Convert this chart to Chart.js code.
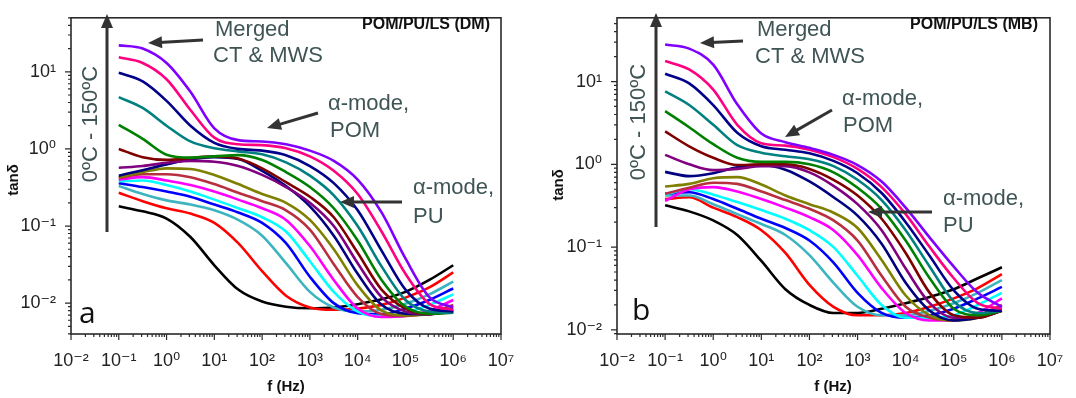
<!DOCTYPE html>
<html>
<head>
<meta charset="utf-8">
<script src="https://cdn.jsdelivr.net/npm/chart.js@4.4.1/dist/chart.umd.min.js"></script>
<style>
  body { margin: 0; background: #fff; width: 1076px; height: 398px; position: relative; overflow: hidden; }
  #wa { position: absolute; left: 0; top: 0; }
  #wb { position: absolute; left: 540px; top: 0; }
</style>
</head>
<body>
<div id="wa"><canvas id="dm" width="540" height="398"></canvas></div>
<div id="wb"><canvas id="mb" width="536" height="398"></canvas></div>
<script>
// frequencies (Hz), half-decade steps from 0.1 Hz to 1 MHz
const freqs = [0.1, 0.3162, 1, 3.162, 10, 31.62, 100, 316.2, 1000, 3162, 1e4, 3.162e4, 1e5, 3.162e5, 1e6];

// one colour per temperature, 0 °C (black) up to 150 °C (violet)
const tempColors = ['#000000', '#ff0000', '#3db5c0', '#0000ff', '#00ffff', '#ff00ff', '#b83040', '#808000',
                    '#000080', '#800080', '#800000', '#008000', '#008080', '#00008b', '#ff0080', '#8000ff'];

const xTicks = [0.01, 0.1, 1, 10, 100, 1e3, 1e4, 1e5, 1e6, 1e7];
const xTickLabels = ['10⁻²', '10⁻¹', '10⁰', '10¹', '10²', '10³', '10⁴', '10⁵', '10⁶', '10⁷'];
const yTicks = [0.01, 0.1, 1, 10];
const yTickLabels = ['10⁻²', '10⁻¹', '10⁰', '10¹'];

// panel a : POM/PU/LS (DM), tan delta
const dm01 = [0.18, 0.155, 0.125, 0.072, 0.031, 0.015, 0.0105, 0.009, 0.0086, 0.0088, 0.0097, 0.0112, 0.014, 0.02, 0.031];
const dm02 = [0.27, 0.21, 0.17, 0.145, 0.11, 0.06, 0.026, 0.0125, 0.0088, 0.0082, 0.0085, 0.0095, 0.0118, 0.016, 0.025];
const dm03 = [0.33, 0.26, 0.215, 0.19, 0.16, 0.12, 0.075, 0.033, 0.014, 0.0088, 0.0078, 0.0082, 0.0098, 0.013, 0.019];
const dm04 = [0.36, 0.32, 0.28, 0.24, 0.19, 0.15, 0.11, 0.06, 0.022, 0.01, 0.0074, 0.0072, 0.0085, 0.011, 0.0155];
const dm05 = [0.38, 0.39, 0.34, 0.28, 0.22, 0.17, 0.13, 0.085, 0.035, 0.014, 0.0078, 0.0068, 0.0075, 0.0095, 0.013];
const dm06 = [0.40, 0.43, 0.39, 0.34, 0.28, 0.22, 0.17, 0.12, 0.055, 0.02, 0.0085, 0.0066, 0.0068, 0.008, 0.011];
const dm07 = [0.42, 0.47, 0.47, 0.43, 0.35, 0.27, 0.21, 0.16, 0.09, 0.032, 0.012, 0.0072, 0.0068, 0.0075, 0.0095];
const dm08 = [0.43, 0.5, 0.56, 0.55, 0.46, 0.35, 0.26, 0.2, 0.12, 0.05, 0.017, 0.008, 0.007, 0.0072, 0.0088];
const dm09 = [0.45, 0.53, 0.63, 0.73, 0.78, 0.74, 0.52, 0.33, 0.18, 0.075, 0.024, 0.0095, 0.0073, 0.0072, 0.0082];
const dm10 = [0.57, 0.6, 0.66, 0.7, 0.68, 0.6, 0.46, 0.32, 0.2, 0.1, 0.033, 0.012, 0.0078, 0.0072, 0.008];
const dm11 = [1.0, 0.78, 0.72, 0.76, 0.8, 0.75, 0.56, 0.37, 0.24, 0.13, 0.045, 0.015, 0.0085, 0.0072, 0.0077];
const dm12 = [2.05, 1.35, 0.84, 0.77, 0.8, 0.83, 0.72, 0.5, 0.32, 0.17, 0.065, 0.02, 0.009, 0.0073, 0.0075];
const dm13 = [4.7, 3.4, 2.0, 1.25, 1.02, 0.93, 0.85, 0.67, 0.45, 0.25, 0.1, 0.03, 0.011, 0.0078, 0.0075];
const dm14 = [9.7, 7.5, 4.2, 2.0, 1.2, 1.0, 0.95, 0.83, 0.6, 0.36, 0.16, 0.048, 0.015, 0.0085, 0.0078];
const dm15 = [15.4, 13, 8, 3.2, 1.4, 1.15, 1.12, 1.02, 0.8, 0.52, 0.26, 0.085, 0.024, 0.0098, 0.0082];
const dm16 = [22, 20, 13, 5.5, 1.85, 1.3, 1.25, 1.15, 0.95, 0.7, 0.4, 0.15, 0.038, 0.012, 0.0088];

// panel b : POM/PU/LS (MB), tan delta
const mb01 = [0.32, 0.27, 0.21, 0.14, 0.068, 0.031, 0.02, 0.016, 0.016, 0.018, 0.021, 0.025, 0.031, 0.042, 0.057];
const mb02 = [0.38, 0.4, 0.3, 0.23, 0.16, 0.085, 0.035, 0.019, 0.015, 0.015, 0.016, 0.019, 0.024, 0.032, 0.047];
const mb03 = [0.42, 0.42, 0.33, 0.25, 0.19, 0.14, 0.08, 0.037, 0.019, 0.015, 0.015, 0.017, 0.021, 0.028, 0.04];
const mb04 = [0.44, 0.46, 0.38, 0.29, 0.22, 0.17, 0.12, 0.065, 0.028, 0.016, 0.014, 0.015, 0.018, 0.024, 0.033];
const mb05 = [0.43, 0.5, 0.43, 0.35, 0.28, 0.22, 0.16, 0.1, 0.045, 0.02, 0.014, 0.014, 0.015, 0.02, 0.028];
const mb06 = [0.36, 0.5, 0.53, 0.47, 0.38, 0.3, 0.23, 0.16, 0.08, 0.032, 0.016, 0.013, 0.013, 0.016, 0.024];
const mb07 = [0.44, 0.52, 0.6, 0.58, 0.47, 0.37, 0.29, 0.21, 0.12, 0.045, 0.019, 0.014, 0.013, 0.015, 0.02];
const mb08 = [0.54, 0.58, 0.68, 0.7, 0.57, 0.42, 0.33, 0.26, 0.17, 0.07, 0.026, 0.015, 0.013, 0.014, 0.018];
const mb09 = [0.81, 0.72, 0.78, 0.92, 0.98, 0.86, 0.62, 0.4, 0.24, 0.11, 0.037, 0.017, 0.013, 0.014, 0.017];
const mb10 = [1.3, 1.0, 0.85, 0.88, 0.95, 0.95, 0.8, 0.55, 0.33, 0.16, 0.055, 0.021, 0.014, 0.014, 0.017];
const mb11 = [2.5, 1.65, 1.2, 0.98, 1.0, 1.0, 0.88, 0.65, 0.42, 0.22, 0.085, 0.028, 0.015, 0.014, 0.017];
const mb12 = [4.4, 2.8, 1.75, 1.2, 1.07, 1.07, 1.0, 0.8, 0.52, 0.29, 0.12, 0.042, 0.018, 0.015, 0.017];
const mb13 = [7.6, 5.2, 3.0, 1.7, 1.38, 1.25, 1.15, 0.95, 0.65, 0.37, 0.16, 0.058, 0.022, 0.016, 0.017];
const mb14 = [12.4, 9.5, 5.2, 2.4, 1.65, 1.5, 1.36, 1.1, 0.78, 0.45, 0.2, 0.078, 0.03, 0.018, 0.017];
const mb15 = [17.7, 14, 8, 3.0, 1.8, 1.68, 1.5, 1.22, 0.88, 0.53, 0.25, 0.1, 0.042, 0.021, 0.018];
const mb16 = [28, 25, 16, 5.3, 2.35, 1.85, 1.58, 1.3, 0.98, 0.62, 0.3, 0.13, 0.058, 0.028, 0.019];

const FONT = '"Liberation Sans", Arial, "DejaVu Sans", sans-serif';
const NOTE = '#3f5454';

function arrow(ctx, x1, y1, x2, y2) {
  const ang = Math.atan2(y2 - y1, x2 - x1);
  const hl = 14, hw = 6;
  ctx.strokeStyle = '#333'; ctx.fillStyle = '#333'; ctx.lineWidth = 3;
  ctx.beginPath();
  ctx.moveTo(x1, y1);
  ctx.lineTo(x2 - Math.cos(ang) * hl * 0.8, y2 - Math.sin(ang) * hl * 0.8);
  ctx.stroke();
  ctx.beginPath();
  ctx.moveTo(x2, y2);
  ctx.lineTo(x2 - hl * Math.cos(ang) + hw * Math.sin(ang), y2 - hl * Math.sin(ang) - hw * Math.cos(ang));
  ctx.lineTo(x2 - hl * Math.cos(ang) - hw * Math.sin(ang), y2 - hl * Math.sin(ang) + hw * Math.cos(ang));
  ctx.closePath();
  ctx.fill();
}

// frame, minor ticks and the annotations
const notes = {
  id: 'notes',
  afterDatasetsDraw(chart, args, o) {
    const {ctx, chartArea: a, scales: {x, y}} = chart;
    ctx.save();
    ctx.strokeStyle = '#2a2a2a';
    ctx.lineWidth = 1.6;
    ctx.strokeRect(a.left, a.top, a.right - a.left, a.bottom - a.top);

    ctx.lineWidth = 1.2;
    ctx.beginPath();
    for (let e = -3; e <= 7; e++) {
      for (let k = 1; k <= 9; k++) {
        const v = k * Math.pow(10, e);
        const len = k === 1 ? 6 : 3;
        if (v >= x.min * 0.999 && v <= x.max * 1.001) {
          const px = x.getPixelForValue(v);
          ctx.moveTo(px, a.bottom); ctx.lineTo(px, a.bottom + len);
        }
        if (v >= y.min * 0.999 && v <= y.max * 1.001) {
          const py = y.getPixelForValue(v);
          ctx.moveTo(a.left, py); ctx.lineTo(a.left - len, py);
        }
      }
    }
    ctx.stroke();

    o.texts.forEach(t => {
      ctx.save();
      ctx.font = t.font;
      ctx.fillStyle = t.color;
      ctx.textAlign = t.align || 'left';
      ctx.textBaseline = t.base || 'alphabetic';
      ctx.translate(t.x, t.y);
      if (t.rot) ctx.rotate(t.rot);
      ctx.fillText(t.text, 0, 0);
      ctx.restore();
    });
    o.arrows.forEach(p => arrow(ctx, p[0], p[1], p[2], p[3]));
    ctx.restore();
  }
};

function makeChart(id, series, o) {
  const ctx = document.getElementById(id).getContext('2d');
  return new Chart(ctx, {
    type: 'line',
    data: {
      datasets: series.map((vals, i) => ({
        data: freqs.map((f, j) => ({x: f, y: vals[j]})),
        borderColor: tempColors[i],
        borderWidth: 2.6,
        pointRadius: 0,
        fill: false,
        cubicInterpolationMode: 'monotone'
      })).reverse()
    },
    options: {
      responsive: false,
      animation: false,
      layout: {padding: {left: 0, right: o.padRight, top: o.padTop, bottom: 0}},
      plugins: {legend: {display: false}, tooltip: {enabled: false}, notes: o.notes},
      scales: {
        x: {
          type: 'logarithmic', min: 0.01, max: 1e7,
          grid: {display: false}, border: {display: false},
          afterBuildTicks: s => { s.ticks = xTicks.map(v => ({value: v})); },
          afterFit: s => { s.height = 64; },
          ticks: {autoSkip: false, maxRotation: 0, padding: 8, color: '#222',
                  font: {family: FONT, size: 18}, callback: (v, i) => xTickLabels[i]}
        },
        y: {
          type: 'logarithmic', min: o.yMin, max: o.yMax,
          grid: {display: false}, border: {display: false},
          afterBuildTicks: s => { s.ticks = yTicks.map(v => ({value: v})); },
          afterFit: s => { s.width = o.yWidth; },
          ticks: {autoSkip: false, padding: 7, color: '#222',
                  font: {family: FONT, size: 18}, callback: (v, i) => yTickLabels[i]}
        }
      }
    },
    plugins: [notes]
  });
}

const noteFont = '22px ' + FONT;

makeChart('dm', [dm01, dm02, dm03, dm04, dm05, dm06, dm07, dm08, dm09, dm10, dm11, dm12, dm13, dm14, dm15, dm16], {
  yMin: Math.pow(10, -2.4), yMax: Math.pow(10, 1.7), yWidth: 71, padRight: 39, padTop: 6,
  notes: {
    texts: [
      {text: 'Merged', x: 215, y: 36, font: noteFont, color: NOTE},
      {text: 'CT & MWS', x: 213, y: 62, font: noteFont, color: NOTE},
      {text: 'α-mode,', x: 328, y: 110, font: noteFont, color: NOTE},
      {text: 'POM', x: 330, y: 137, font: noteFont, color: NOTE},
      {text: 'α-mode,', x: 413, y: 194, font: noteFont, color: NOTE},
      {text: 'PU', x: 413, y: 223, font: noteFont, color: NOTE},
      {text: '0ºC - 150ºC', x: 91, y: 124, rot: -Math.PI / 2, align: 'center', base: 'middle', font: noteFont, color: NOTE},
      {text: 'POM/PU/LS (DM)', x: 490, y: 29, align: 'right', font: 'bold 16px ' + FONT, color: '#111'},
      {text: 'a', x: 79, y: 323, font: '30px "Open Sans", ' + FONT, color: '#111'},
      {text: 'f (Hz)', x: 286, y: 391, align: 'center', font: 'bold 15px ' + FONT, color: '#111'},
      {text: 'tanδ', x: 14, y: 180, rot: -Math.PI / 2, align: 'center', base: 'middle', font: 'bold 15px ' + FONT, color: '#111'}
    ],
    arrows: [[203, 40, 148, 43], [318, 113, 267, 128], [402, 202, 340, 202], [107, 232, 107, 14]]
  }
});

makeChart('mb', [mb01, mb02, mb03, mb04, mb05, mb06, mb07, mb08, mb09, mb10, mb11, mb12, mb13, mb14, mb15, mb16], {
  yMin: Math.pow(10, -2.05), yMax: Math.pow(10, 1.77), yWidth: 77, padRight: 26, padTop: 7,
  notes: {
    texts: [
      {text: 'Merged', x: 217, y: 36, font: noteFont, color: NOTE},
      {text: 'CT & MWS', x: 215, y: 63, font: noteFont, color: NOTE},
      {text: 'α-mode,', x: 302, y: 105, font: noteFont, color: NOTE},
      {text: 'POM', x: 303, y: 132, font: noteFont, color: NOTE},
      {text: 'α-mode,', x: 403, y: 205, font: noteFont, color: NOTE},
      {text: 'PU', x: 403, y: 232, font: noteFont, color: NOTE},
      {text: '0ºC - 150ºC', x: 99, y: 122, rot: -Math.PI / 2, align: 'center', base: 'middle', font: noteFont, color: NOTE},
      {text: 'POM/PU/LS (MB)', x: 498, y: 29, align: 'right', font: 'bold 16px ' + FONT, color: '#111'},
      {text: 'b', x: 92, y: 320, font: '30px "Open Sans", ' + FONT, color: '#111'},
      {text: 'f (Hz)', x: 293, y: 391, align: 'center', font: 'bold 15px ' + FONT, color: '#111'},
      {text: 'tanδ', x: 19, y: 185, rot: -Math.PI / 2, align: 'center', base: 'middle', font: 'bold 15px ' + FONT, color: '#111'}
    ],
    arrows: [[203, 41, 160, 43], [292, 110, 245, 137], [392, 212, 328, 212], [116, 227, 116, 13]]
  }
});
</script>
</body>
</html>
